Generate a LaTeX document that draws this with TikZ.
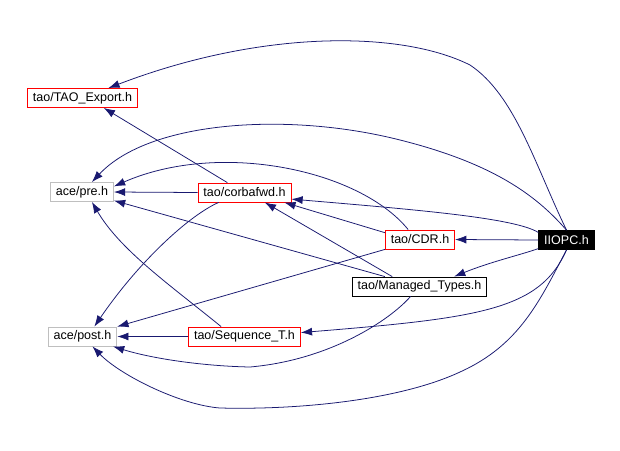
\documentclass[tikz,border=0pt]{standalone}
\usepackage{fontspec}
\setmainfont{Liberation Sans}
\usetikzlibrary{arrows.meta}
\definecolor{edgeblue}{RGB}{25,25,112}
\definecolor{boxgray}{RGB}{191,191,191}

\begin{document}
\begin{tikzpicture}[x=0.025cm, y=-0.025cm, >={Latex[length=0.28cm,width=0.2cm]},
        block/.style={rectangle, draw, fill=white, minimum height=0.475cm, inner xsep=3.9pt, inner ysep=0pt, line width=0.6pt, font=\fontsize{8.9}{10}\selectfont},
        redblock/.style={block, draw=red},
        grayblock/.style={block, draw=boxgray},
        rootblock/.style={block, fill=black, text=white},
        dep/.style={->, draw=edgeblue, line width=0.55pt}
    ]
    \useasboundingbox (0,0) rectangle (620,450);

    % Fájlok
    \node[redblock] (export) at (82.5,98) {tao/TAO\_Export.h};
    \node[grayblock] (pre) at (82,192) {ace/pre.h};
    \node[redblock] (corbafwd) at (244.5,192.5) {tao/corbafwd.h};
    \node[redblock] (cdr) at (420,239.5) {tao/CDR.h};
    \node[rootblock] (iiopc) at (566.5,240) {IIOPC.h};
    \node[block] (managed) at (419.5,286.5) {tao/Managed\_Types.h};
    \node[grayblock] (post) at (82.5,336.5) {ace/post.h};
    \node[redblock] (seq) at (244.5,336.5) {tao/Sequence\_T.h};

    % IIOPC.h
    \draw[dep] (iiopc.north) .. controls (535,165) and (515,95) .. (470,65) .. controls (400,30) and (260,30) .. (export.21);
    \draw[dep] (iiopc.north) .. controls (540,200) and (500,165) .. (400,140) .. controls (290,112) and (150,120) .. (pre.45);
    \draw[dep] (iiopc.165) .. controls (515,218) and (420,210) .. (corbafwd.352);
    \draw[dep] (iiopc.west) -- (cdr.east);
    \draw[dep] (iiopc.197) .. controls (520,255) and (490,262) .. (managed.16);
    \draw[dep] (iiopc.south) .. controls (540,310) and (480,318) .. (seq.4);
    \draw[dep] (iiopc.south) .. controls (540,300) and (520,345) .. (460,372) .. controls (400,400) and (300,410) .. (220,408) .. controls (180,405) and (120,375) .. (post.315);

    % CDR.h
    \draw[dep] (cdr.140) .. controls (360,170) and (220,140) .. (pre.10);
    \draw[dep] (cdr.169) -- (corbafwd.346);
    \draw[dep] (cdr.south west) -- (post.north east);

    % corbafwd.h
    \draw[dep] (corbafwd.150) -- (export.335);
    \draw[dep] (corbafwd.west) -- (pre.east);
    \draw[dep] (corbafwd.201) .. controls (190,215) and (140,260) .. (post.40);

    % Managed_Types.h
    \draw[dep] (managed.160) -- (corbafwd.334);
    \draw[dep] (managed.164) -- (pre.345);
    \draw[dep] (managed.228) .. controls (390,320) and (330,360) .. (250,367) .. controls (200,366) and (150,358) .. (post.342);

    % Sequence_T.h
    \draw[dep] (seq.west) -- (post.east);
    \draw[dep] (seq.157) .. controls (170,285) and (120,250) .. (pre.315);
\end{tikzpicture}
\end{document}
